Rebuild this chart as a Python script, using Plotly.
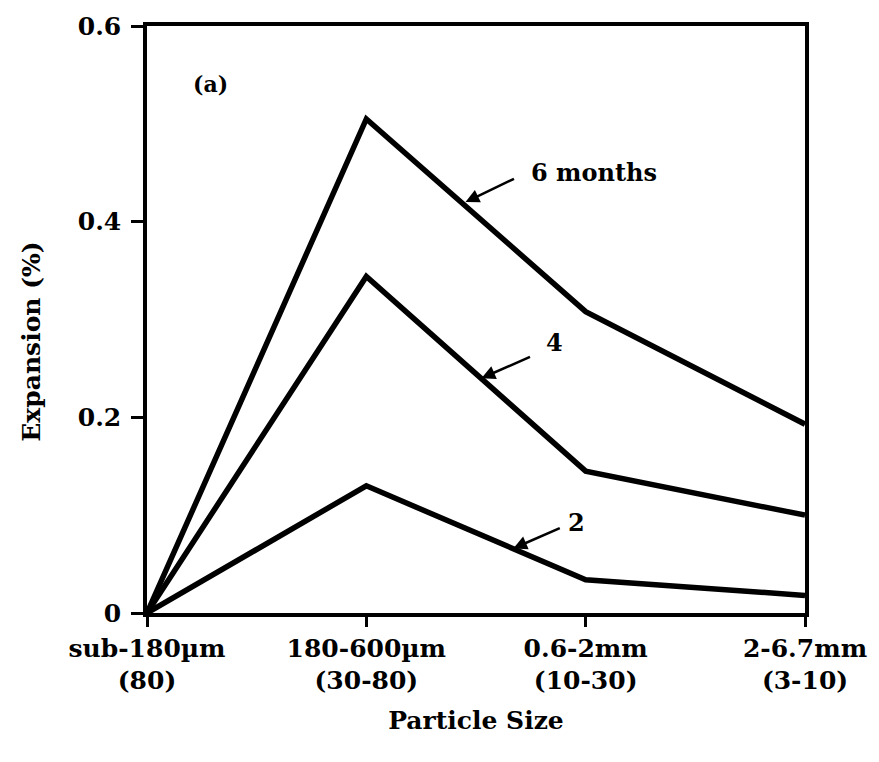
import plotly.graph_objects as go

# Particle size classes (mesh range in brackets)
categories = ["sub-180µm<br>(80)", "180-600µm<br>(30-80)", "0.6-2mm<br>(10-30)", "2-6.7mm<br>(3-10)"]
cat_index = [0, 1, 2, 3]

# Expansion (%) after each exposure period
exp_2_months = [0.0, 0.130, 0.034, 0.018]
exp_4_months = [0.0, 0.344, 0.145, 0.100]
exp_6_months = [0.0, 0.505, 0.308, 0.193]

y_ticks = [0, 0.2, 0.4, 0.6]
y_ticktext = ["0", "0.2", "0.4", "0.6"]

FONT = "DejaVu Serif"

fig = go.Figure()
for series, name in [(exp_2_months, "2"), (exp_4_months, "4"), (exp_6_months, "6 months")]:
    fig.add_trace(go.Scatter(
        x=cat_index, y=series, mode="lines", name=name,
        line=dict(color="black", width=5.5),
        cliponaxis=False, showlegend=False,
    ))

# Labels with arrows pointing onto each curve: (text, text pos, arrow head pos, tail offset)
labels = [
    ("6 months", (2.04, 0.450), (1.452, 0.420), 50, -24),
    ("4", (1.86, 0.277), (1.525, 0.240), 50, -22),
    ("2", (1.96, 0.092), (1.670, 0.066), 48, -21),
]
for text, (tx, ty), (hx, hy), ax, ay in labels:
    fig.add_annotation(x=tx, y=ty, text=text, showarrow=False,
                       font=dict(family=FONT, size=24, color="black", weight="bold"))
    fig.add_annotation(x=hx, y=hy, text="", showarrow=True, ax=ax, ay=ay,
                       arrowhead=2, arrowsize=1.1, arrowwidth=2.5, arrowcolor="black")

fig.add_annotation(x=0.29, y=0.541, text="(a)", showarrow=False,
                   font=dict(family=FONT, size=22, color="black", weight="bold"))

# Y axis title, placed a little below the middle of the axis
fig.add_annotation(xref="paper", yref="paper", x=-0.2, y=0.462, text="Expansion (%)",
                   textangle=-90, showarrow=False,
                   font=dict(family=FONT, size=25, color="black", weight="bold"))

fig.update_layout(
    width=879, height=762,
    margin=dict(l=147, r=69, t=22, b=149),
    paper_bgcolor="white", plot_bgcolor="white",
    font=dict(family=FONT, color="black", size=25, weight="bold"),
    xaxis=dict(
        range=[0, 3], tickvals=cat_index, ticktext=categories,
        showline=True, linecolor="black", linewidth=3.5, mirror=True,
        ticks="outside", ticklen=10, tickwidth=3, tickcolor="black",
        showgrid=False, zeroline=False,
        tickfont=dict(family=FONT, size=25, weight="bold"),
        title=dict(text="Particle Size", font=dict(family=FONT, size=25, weight="bold"), standoff=18),
    ),
    yaxis=dict(
        range=[0, 0.6], tickvals=y_ticks, ticktext=y_ticktext,
        showline=True, linecolor="black", linewidth=3.5, mirror=True,
        ticks="outside", ticklen=12, tickwidth=3, tickcolor="black",
        ticklabelstandoff=5,
        showgrid=False, zeroline=False,
        tickfont=dict(family=FONT, size=25, weight="bold"),
    ),
)

fig.write_html("out.html")
